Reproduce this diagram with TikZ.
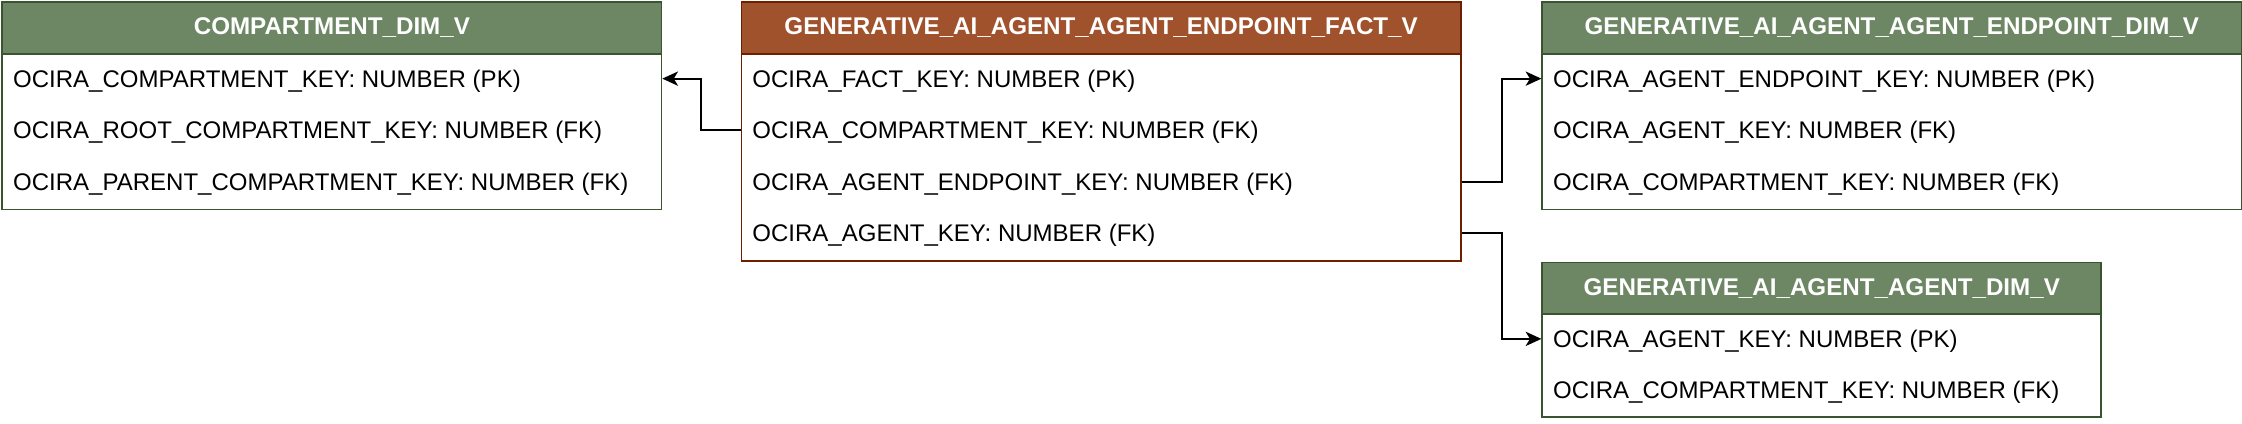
\documentclass[tikz,border=0pt]{standalone}
\usepackage{fontspec}
\setmainfont{Liberation Sans}
\usetikzlibrary{arrows.meta}
\definecolor{gfill}{HTML}{6D8764}
\definecolor{gline}{HTML}{3A5431}
\definecolor{bfill}{HTML}{A0522D}
\definecolor{bline}{HTML}{6D1F00}
\tikzset{
  hdr/.style={draw=#1, line width=1.2pt, anchor=north west, inner sep=0pt, text=white,
    font=\fontsize{16.9}{20}\selectfont\bfseries, minimum height=36pt},
  tbody/.style={draw=#1, fill=white, line width=1.2pt, anchor=north west, inner sep=0pt},
  rowtxt/.style={anchor=base west, inner sep=0pt, font=\fontsize{16.8}{19}\selectfont},
  conn/.style={draw=black, line width=1.3pt, -{Stealth[length=11pt,width=10pt,inset=3pt]}}
}
\begin{document}
\begin{tikzpicture}[x=1pt,y=-1pt]
\useasboundingbox (0,0) rectangle (1568,296.5);
% T1
\node[tbody=gline, minimum width=461pt, minimum height=109pt] (t1b) at (1,37) {};
\node[hdr=gline, fill=gfill, minimum width=461pt] (t1h) at (1,1) {COMPARTMENT\_DIM\_V};
\node[rowtxt] (t1r1) at (9,61) {OCIRA\_COMPARTMENT\_KEY: NUMBER (PK)};
\node[rowtxt] (t1r2) at (9,97) {OCIRA\_ROOT\_COMPARTMENT\_KEY: NUMBER (FK)};
\node[rowtxt] (t1r3) at (9,133) {OCIRA\_PARENT\_COMPARTMENT\_KEY: NUMBER (FK)};
% T2
\node[tbody=bline, minimum width=503pt, minimum height=145pt] (t2b) at (518,37) {};
\node[hdr=bline, fill=bfill, minimum width=503pt] (t2h) at (518,1) {GENERATIVE\_AI\_AGENT\_AGENT\_ENDPOINT\_FACT\_V};
\node[rowtxt] (t2r1) at (526,61) {OCIRA\_FACT\_KEY: NUMBER (PK)};
\node[rowtxt] (t2r2) at (526,97) {OCIRA\_COMPARTMENT\_KEY: NUMBER (FK)};
\node[rowtxt] (t2r3) at (526,133) {OCIRA\_AGENT\_ENDPOINT\_KEY: NUMBER (FK)};
\node[rowtxt] (t2r4) at (526,169) {OCIRA\_AGENT\_KEY: NUMBER (FK)};
% T3
\node[tbody=gline, minimum width=489pt, minimum height=109pt] (t3b) at (1078,37) {};
\node[hdr=gline, fill=gfill, minimum width=489pt] (t3h) at (1078,1) {GENERATIVE\_AI\_AGENT\_AGENT\_ENDPOINT\_DIM\_V};
\node[rowtxt] (t3r1) at (1086,61) {OCIRA\_AGENT\_ENDPOINT\_KEY: NUMBER (PK)};
\node[rowtxt] (t3r2) at (1086,97) {OCIRA\_AGENT\_KEY: NUMBER (FK)};
\node[rowtxt] (t3r3) at (1086,133) {OCIRA\_COMPARTMENT\_KEY: NUMBER (FK)};
% T4
\node[tbody=gline, minimum width=391pt, minimum height=72pt] (t4b) at (1078,219) {};
\node[hdr=gline, fill=gfill, minimum width=391pt] (t4h) at (1078,183) {GENERATIVE\_AI\_AGENT\_AGENT\_DIM\_V};
\node[rowtxt] (t4r1) at (1086,243) {OCIRA\_AGENT\_KEY: NUMBER (PK)};
\node[rowtxt] (t4r2) at (1086,279) {OCIRA\_COMPARTMENT\_KEY: NUMBER (FK)};
% row anchor points for connectors
\coordinate (p1) at (0,55);
\coordinate (p2) at (0,91);
\coordinate (p3) at (0,127);
\coordinate (p4) at (0,163);
\coordinate (p5) at (0,237);
% connectors
\draw[conn] (t2b.west |- p2) -- ++(-28,0) |- (t1b.east |- p1);
\draw[conn] (t2b.east |- p3) -- ++(28,0) |- (t3b.west |- p1);
\draw[conn] (t2b.east |- p4) -- ++(28,0) |- (t4b.west |- p5);
\end{tikzpicture}
\end{document}
